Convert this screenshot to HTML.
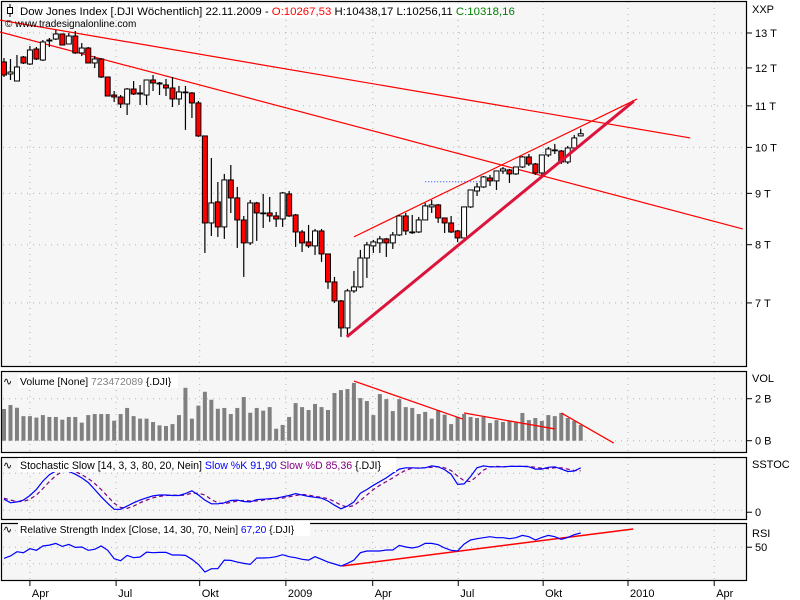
<!DOCTYPE html>
<html><head><meta charset="utf-8"><style>
html,body{margin:0;padding:0;background:#fff;}
svg{display:block;font-family:"Liberation Sans",sans-serif;}
</style></head><body>
<svg id="chart" width="800" height="600" viewBox="0 0 800 600" xmlns="http://www.w3.org/2000/svg">
<rect x="0" y="0" width="800" height="600" fill="#fff"/>
<g id="panels"></g>
<g id="grid"></g>
<g id="marks"></g>
<g id="labels"></g>
</svg>
<script>
// ---- data ----
const opens=[12164,11834,11645,12304,12108,12531,12219,12764,12822,12970,12676,12911,12420,12560,12136,12248,11752,11277,11226,11047,11433,11303,11277,11672,11565,11539,11460,11175,11355,11329,11073,10266,8409,8825,8333,9281,8906,8467,8033,8804,8604,8604,8545,8486,8988,8565,8237,8051,7978,8256,7832,7345,7032,6610,7196,7262,7760,7978,8033,8107,8033,8181,8545,8237,8237,8467,8724,8764,8506,8409,8256,8125,8724,9049,9133,9323,9260,9474,9496,9410,9561,9783,9627,9431,9828,9941,9918,9672,9987,10267];
const highs=[12275,12248,12360,12332,12618,12589,12793,12852,13090,12970,13000,13060,12705,12589,12332,12275,11752,11381,11277,11460,11645,11539,11672,11806,11618,11699,11752,11513,11513,11355,11124,10266,9760,9238,9410,9605,9133,8545,8865,8825,8988,8926,8624,9029,9049,8584,8275,8371,8294,8294,7832,7430,7048,7229,7533,7904,8051,8088,8162,8125,8237,8565,8604,8565,8526,8804,8865,8784,8506,8545,8275,8724,9070,9217,9366,9388,9474,9561,9518,9561,9805,9850,9650,9828,10010,10080,9941,10033,10289,10438];
const lows=[11752,11672,11645,12108,12080,12219,12191,12589,12793,12647,12676,12390,12332,12136,11997,11725,11251,11098,10946,10772,11277,11022,11022,11381,11277,11251,10971,11022,10408,10698,10243,7850,8162,8144,8107,8604,7941,7430,7996,8070,8313,8429,8333,8333,8526,7959,7868,7941,7814,7690,7229,7000,6475,6505,7163,7245,7413,7850,7850,7778,7922,8162,8181,8200,8218,8467,8604,8409,8218,8218,8051,8125,8704,8946,9112,9154,9070,9410,9217,9388,9540,9583,9388,9366,9783,9850,9627,9627,9964,10256];
const closes=[11806,11887,12025,12136,12503,12248,12735,12793,12970,12647,12911,12420,12560,12136,12248,11752,11251,11226,11047,11433,11303,11329,11672,11592,11592,11460,11175,11355,11355,11073,10266,8409,8804,8333,9281,8906,8467,8033,8804,8604,8604,8545,8486,9008,8545,8237,8033,7978,8256,7832,7345,7032,6610,7196,7262,7760,7996,8051,8107,8033,8181,8545,8256,8237,8467,8744,8764,8506,8409,8237,8125,8724,9070,9133,9345,9260,9474,9518,9410,9561,9783,9627,9431,9828,9964,9941,9672,9987,10219,10318];
const volumes=[1.51,1.70,1.57,1.17,1.17,1.10,1.22,1.13,1.13,1.00,1.13,1.13,0.86,1.22,1.27,1.27,1.27,0.95,1.27,1.56,1.17,1.05,1.05,0.89,0.73,0.70,0.79,1.22,2.52,1.05,1.67,2.33,1.95,1.52,1.56,1.27,1.56,2.08,1.33,1.56,1.43,1.60,0.57,0.75,1.13,1.79,1.60,1.46,1.75,1.60,1.46,2.27,2.41,2.46,2.75,2.03,1.89,1.22,2.22,1.98,1.41,1.98,1.60,1.56,1.27,1.37,1.05,1.46,1.24,0.79,1.13,1.27,1.13,1.08,1.13,0.84,0.98,0.89,0.95,0.86,1.32,0.98,1.08,0.94,1.22,1.17,1.32,1.08,0.94,0.75];
const stochK=[24,16,18,22,32,45,63,77,85,89,84,78,70,60,45,29,15,2,2,9,16,22,27,31,33,33,32,32,36,42,33,22,14,14,16,21,22,19,18,23,24,25,26,29,32,36,33,30,28,26,20,11,3,9,18,37,45,54,62,70,80,89,92,92,91,92,96,94,88,78,56,57,73,92,96,94,94,94,95,95,95,94,89,89,93,94,89,84,85,91.9];
const stochD=[26,22,19,19,24,33,47,62,75,84,86,84,77,69,58,45,30,15,6,4,9,16,22,27,30,32,33,32,33,37,37,33,23,16,14,17,20,21,20,20,22,24,25,26,29,32,34,33,30,28,25,19,11,7,10,21,33,45,54,62,70,79,87,91,92,92,93,94,92,86,74,64,62,74,87,94,95,94,95,95,95,95,93,91,90,92,92,89,86,85.36];
const rsi=[36.5,39.3,44.5,43.3,48.2,46.2,51.4,52.6,54.6,51,53.4,49.8,50.2,46.2,47.4,51.4,46.2,36.1,33.6,40.1,37.3,38.1,44.1,43.3,43.7,43.7,40.5,40.5,40.1,35.3,29.2,19.9,23.9,23.9,34.4,34,32,30.4,29.2,36.9,36.9,37.3,38.5,40.9,38.5,37.3,35.3,34.4,38.5,35.3,32,29.6,27.2,30.4,34.4,43.3,45.4,45.4,45.4,46.6,46.6,52.2,50.2,49,50.6,54.6,54.6,53,49,46.2,45.4,53.8,58.7,60.3,61.5,62.7,61.5,61.5,60.3,61.5,64.3,62.7,58.7,61.9,64.3,62.7,59.5,61.9,65.2,67.2];
const priceTicks=[13000,12000,11000,10000,9000,8000,7000];
const priceTickLabels=["13 T","12 T","11 T","10 T","9 T","8 T","7 T"];
const dateTickIdx=[4.0,17.3,30.2,43.5,56.9,70.1,83.2,96.3,109.6];
const dateTickLabels=["Apr","Jul","Okt","2009","Apr","Jul","Okt","2010","Apr"];
const priceTrendlines=[[-0.62,13390,105.9,10220],[-0.62,13030,114,8294],[54,8145,97.7,11173]];
const supportLine=[52.9,6477,97.2,11122];
const bluePriceLevel=[65,9242,73.5,9242];
const volTrendlines=[[54,2.84,70.8,1.03],[71,1.32,85,0.56],[86,1.32,94.1,-0.11]];
const rsiTrendline=[52.2,27.2,97.1,72.1];

// ---- scales ----
const xOf=i=>4+i*6.48;
const L13=Math.log10(13000);
const yP=p=>33+(L13-Math.log10(p))*1004;
const yV=v=>440.7-v*21;
const yS=v=>501-(v-20)*0.4617;
const yR=v=>563.7-(v-30)*0.825;
const NS="http://www.w3.org/2000/svg";
function mk(tag,attrs,parent){const e=document.createElementNS(NS,tag);for(const k in attrs)e.setAttribute(k,attrs[k]);parent.appendChild(e);return e;}
const panels=document.getElementById('panels'),grid=document.getElementById('grid'),marks=document.getElementById('marks'),labels=document.getElementById('labels');

const P=[["main-panel",1,366],["volume-panel",371,452],["stochastic-panel",457,519],["rsi-panel",523,580]];
P.forEach(p=>{const r=mk('rect',{x:1.5,y:p[1]+0.5,width:745,height:p[2]-p[1],fill:'#f6f6f6',stroke:'#000','stroke-width':1.2},panels);

});

const dot={stroke:'#a9b8a9','stroke-width':1,'stroke-dasharray':'1,5'};
function hgrid(y,x2){mk('line',Object.assign({x1:3,x2:x2||745,y1:y,y2:y},dot),grid);}
function tickLabel(y,txt,name){
  mk('line',{x1:747,x2:752,y1:y,y2:y,stroke:'#000'},labels);
  const t=mk('text',{x:755,y:y+4,'font-size':11,fill:'#000'},labels);t.textContent=txt;
  
  
}
priceTicks.forEach((p,k)=>{const y=yP(p);hgrid(y);tickLabel(y,priceTickLabels[k],'price-tick-label');});
dateTickIdx.forEach(di=>{const x=xOf(di);
 [[2,366],[372,452],[458,519],[524,580]].forEach(r=>mk('line',Object.assign({x1:x,x2:x,y1:r[0],y2:r[1]},dot),grid));
});
hgrid(yV(2));hgrid(yV(0));
hgrid(yS(80),585);hgrid(yS(20),585);hgrid(yS(0));
hgrid(yR(70),585);hgrid(yR(50));hgrid(yR(30),585);
tickLabel(yV(2),'2 B','volume-tick-label');tickLabel(yV(0),'0 B','volume-tick-label');
tickLabel(yS(0)+2,'0','stochastic-tick-label');tickLabel(yR(50),'50','rsi-tick-label');
[['XXP',13],['VOL',382],['SSTOC',468],['RSI',537]].forEach(a=>{const t=mk('text',{x:752,y:a[1],'font-size':11},labels);t.textContent=a[0];
 
 });
dateTickIdx.forEach((di,k)=>{const x=xOf(di);
 mk('line',{x1:x,x2:x,y1:581,y2:586,stroke:'#000'},labels);
 const t=mk('text',{x:x+2,y:597,'font-size':11},labels);t.textContent=dateTickLabels[k];
 
 });

priceTrendlines.forEach(t=>{const l=mk('line',{x1:xOf(t[0]),y1:yP(t[1]),x2:xOf(t[2]),y2:yP(t[3]),stroke:'#f00','stroke-width':1.2},marks);
 
 });
{const l=mk('line',{x1:xOf(bluePriceLevel[0]),y1:yP(bluePriceLevel[1]),x2:xOf(bluePriceLevel[2]),y2:yP(bluePriceLevel[3]),stroke:'#2040ff','stroke-width':1,'stroke-dasharray':'1,2'},marks);
 
 }
for(let i=0;i<closes.length;i++){
 const x=xOf(i),o=opens[i],c=closes[i];
 const g=mk('g',{},marks);
 
 
 mk('line',{x1:x,x2:x,y1:yP(highs[i]),y2:yP(lows[i]),stroke:'#000','stroke-width':1.2},g);
 const yt=yP(Math.max(o,c)),yb=yP(Math.min(o,c));
 mk('rect',{x:x-2.5,y:yt,width:5,height:Math.max(yb-yt,0.8),fill:c<o?'#f00':(c>o?'#fff':'#000'),stroke:'#000','stroke-width':1},g);
}
{const l=mk('line',{x1:xOf(supportLine[0]),y1:yP(supportLine[1]),x2:xOf(supportLine[2]),y2:yP(supportLine[3]),stroke:'#dc143c','stroke-width':3},marks);
 
 }

volumes.forEach((v,i)=>{const b=mk('rect',{x:xOf(i)-2,y:yV(v),width:4,height:yV(0)-yV(v),fill:'#808080'},marks);
 
 });
volTrendlines.forEach(t=>{const l=mk('line',{x1:xOf(t[0]),y1:yV(t[1]),x2:xOf(t[2]),y2:yV(t[3]),stroke:'#f00','stroke-width':1.3},marks);
 
 });

function poly(arr,yf,attrs,name){const pts=arr.map((v,i)=>xOf(i).toFixed(1)+','+yf(v).toFixed(1)).join(' ');
 const p=mk('polyline',Object.assign({points:pts,fill:'none'},attrs),marks);
 
 }
poly(stochD,yS,{stroke:'#800080','stroke-width':1.2,'stroke-dasharray':'4,3'},'stoch-d-line');
poly(stochK,yS,{stroke:'#0000ff','stroke-width':1.2},'stoch-k-line');
{const l=mk('line',{x1:xOf(rsiTrendline[0]),y1:yR(rsiTrendline[1]),x2:xOf(rsiTrendline[2]),y2:yR(rsiTrendline[3]),stroke:'#f00','stroke-width':1.5},marks);
 
 }
poly(rsi,yR,{stroke:'#0000ff','stroke-width':1.2},'rsi-line');

function header(x,y,w,parts,name,size){
 mk('rect',{x:x-2,y:y-11,width:w,height:14,fill:'#fff'},labels);
 const t=mk('text',{x:x,y:y,'font-size':size||11},labels);
 
 
 parts.forEach(p=>{const s=mk('tspan',{fill:p[1]},t);s.textContent=p[0];});
}
header(20,15,474,[["Dow Jones Index [.DJI  Wöchentlich] 22.11.2009 - ","#000"],["O:10267,53","#f00"],[" H:10438,17 L:10256,11 ","#000"],["C:10318,16","#008000"]],'price-header',11.4);
{const g=mk('g',{},labels);
 mk('line',{x1:10,x2:10,y1:4,y2:17,stroke:'#000'},g);mk('rect',{x:7.5,y:7.5,width:5,height:6,fill:'#fff',stroke:'#000'},g);}
{const t=mk('text',{x:5,y:27,'font-size':10},labels);t.textContent="© www.tradesignalonline.com";
 
 }
header(20,385,160,[["Volume [None] ","#000"],["723472089","#808080"],[" {.DJI}","#000"]],'volume-header',10.4);
header(20,469,378,[["Stochastic Slow [14, 3, 3, 80, 20, Nein] ","#000"],["Slow %K 91,90 ","#0000ff"],["Slow %D 85,36 ","#800080"],["{.DJI}","#000"]],'stochastic-header',10.6);
header(20,533,292,[["Relative Strength Index [Close, 14, 30, 70, Nein] ","#000"],["67,20 ","#0000ff"],["{.DJI}","#000"]],'rsi-header',10.2);
[[3,385],[3,469],[3,533]].forEach(a=>{const t=mk('text',{x:a[0],y:a[1],'font-size':11},labels);t.textContent="∿";
 
 });
</script>
</body></html>
